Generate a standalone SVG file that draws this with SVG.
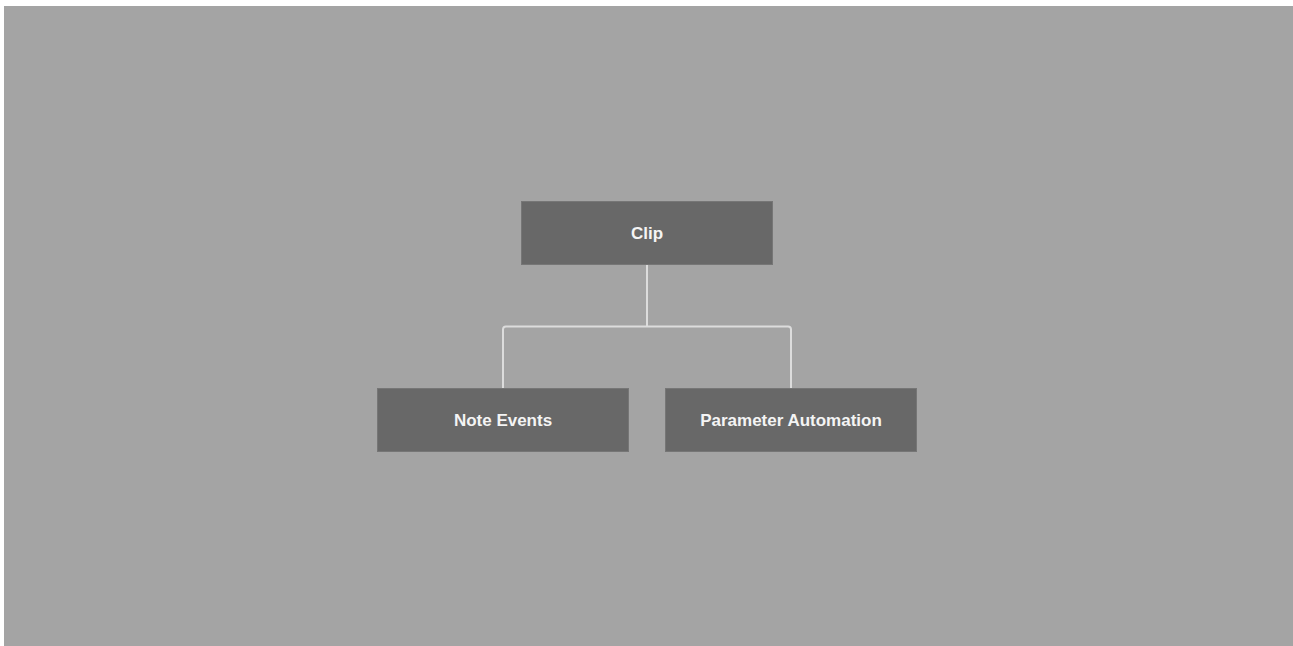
<svg xmlns="http://www.w3.org/2000/svg" width="1293" height="646" viewBox="0 0 1293 646">
  <style>
    .node rect { fill: #686868; stroke: #767676; stroke-width: 1; }
    .node text { fill: #f4f4f4; font-family: "Liberation Sans", Arial, sans-serif; font-weight: bold; font-size: 17px; text-anchor: middle; }
    .conn { fill: none; stroke: #dcdcdc; stroke-width: 2; stroke-linejoin: round; }
  </style>
  <rect x="0" y="0" width="1293" height="646" fill="#ffffff"/>
  <rect x="4" y="6" width="1289" height="640" fill="#a4a4a4"/>
  <g id="connectors">
    <path class="conn" d="M647 264 V326.5"/>
    <path class="conn" d="M503 389 V329.5 Q503 326.5 506 326.5 H788 Q791 326.5 791 329.5 V389"/>
  </g>
  <g id="node-clip" class="node">
    <rect x="521.5" y="201.5" width="251" height="63"/>
    <text x="647" y="239">Clip</text>
  </g>
  <g id="node-note-events" class="node">
    <rect x="377.5" y="388.5" width="251" height="63"/>
    <text x="503" y="426">Note Events</text>
  </g>
  <g id="node-parameter-automation" class="node">
    <rect x="665.5" y="388.5" width="251" height="63"/>
    <text x="791" y="426">Parameter Automation</text>
  </g>
</svg>
